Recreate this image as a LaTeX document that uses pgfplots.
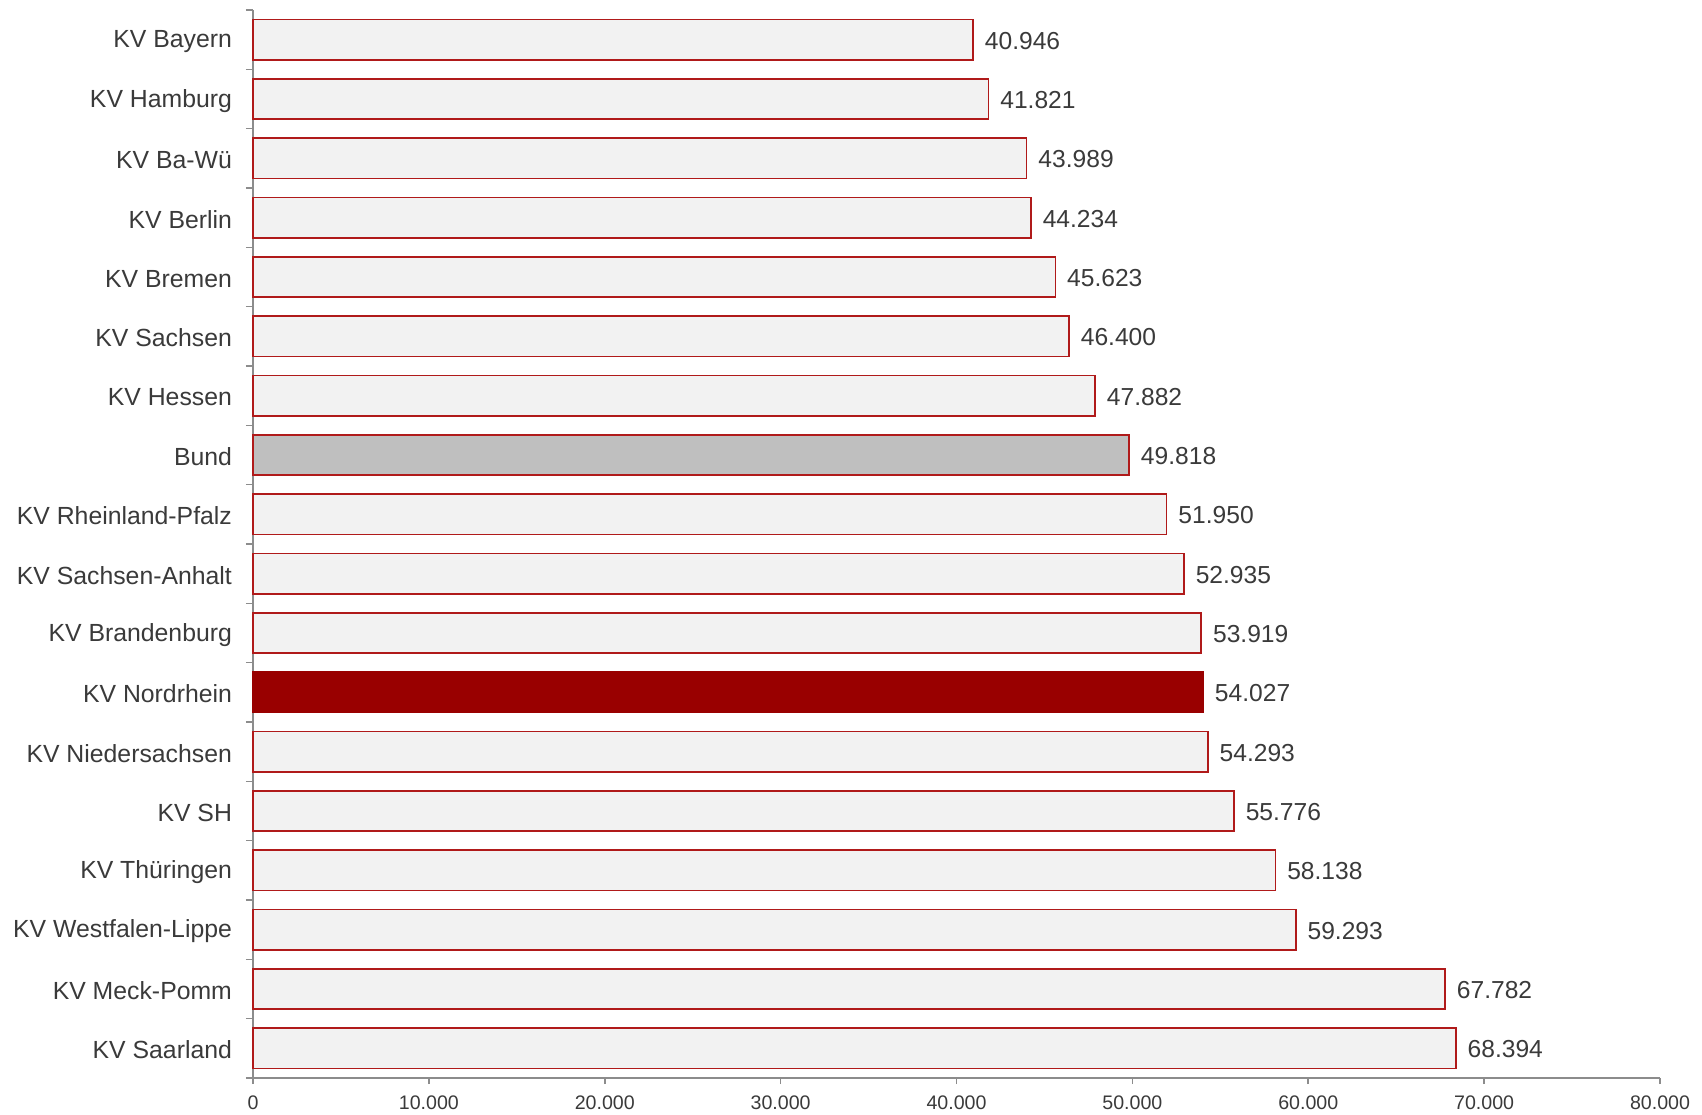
\documentclass[border=0pt]{standalone}
\usepackage{pgfplots}
\pgfplotsset{compat=1.18}
\usepackage{fontspec}
\setmainfont{Liberation Sans}
\definecolor{barfill}{HTML}{F2F2F2}
\definecolor{baredge}{HTML}{B01A1A}
\definecolor{bundfill}{HTML}{BFBFBF}
\definecolor{nordfill}{HTML}{990000}
\definecolor{axgray}{HTML}{8C8C8C}
\definecolor{txt}{HTML}{3A3A3A}
\begin{document}
\begin{tikzpicture}
\begin{axis}[
  at={(0,0)}, anchor=south west,
  scale only axis,
  width=703.5pt, height=534pt,
  xmin=0, xmax=80000,
  ymin=-0.5, ymax=17.5,
  y dir=reverse,
  xbar, bar width=0.68, bar shift=0pt,
  axis x line*=bottom, axis y line*=left,
  axis line style={draw=axgray, line width=1.2pt},
  tick align=outside,
  xtick={0,10000,...,80000},
  x tick style={draw=axgray, line width=0.8pt},
  major tick length=3pt,
  minor tick length=3.5pt,
  scaled x ticks=false,
  /pgf/number format/.cd, fixed, 1000 sep={.}, assume math mode=true,
  /pgfplots/.cd,
  xticklabel style={font=\fontsize{9.8}{11}\selectfont, text=txt, yshift=-2.5pt},
  ytick={0,...,17},
  yticklabels={KV Bayern,KV Hamburg,KV Ba-Wü,KV Berlin,KV Bremen,KV Sachsen,KV Hessen,Bund,KV Rheinland-Pfalz,KV Sachsen-Anhalt,KV Brandenburg,KV Nordrhein,KV Niedersachsen,KV SH,KV Thüringen,KV Westfalen-Lippe,KV Meck-Pomm,KV Saarland},
  yticklabel style={font=\fontsize{12.4}{14}\selectfont, text=txt, xshift=-4pt, yshift=-0.8pt},
  major y tick style={draw=none},
  minor ytick={-0.5,0.5,...,17.5},
  minor y tick style={draw=axgray, line width=0.8pt},
  nodes near coords,
  nodes near coords style={font=\fontsize{12.3}{14}\selectfont, text=txt, anchor=west, inner sep=0pt, xshift=5.5pt, yshift=-0.5pt},
  clip=false,
]
\addplot[fill=barfill, draw=baredge, line width=0.8pt] coordinates {
(40946,0) (41821,1) (43989,2) (44234,3) (45623,4) (46400,5) (47882,6)
(51950,8) (52935,9) (53919,10) (54293,12) (55776,13) (58138,14) (59293,15) (67782,16) (68394,17)};
\addplot[fill=bundfill, draw=baredge, line width=0.8pt] coordinates {(49818,7)};
\addplot[fill=nordfill, draw=nordfill, line width=0.8pt] coordinates {(54027,11)};
\end{axis}
\pgfresetboundingbox
\path[use as bounding box] (-126.5pt,-18pt) rectangle (724.5pt,539pt);
\end{tikzpicture}
\end{document}
